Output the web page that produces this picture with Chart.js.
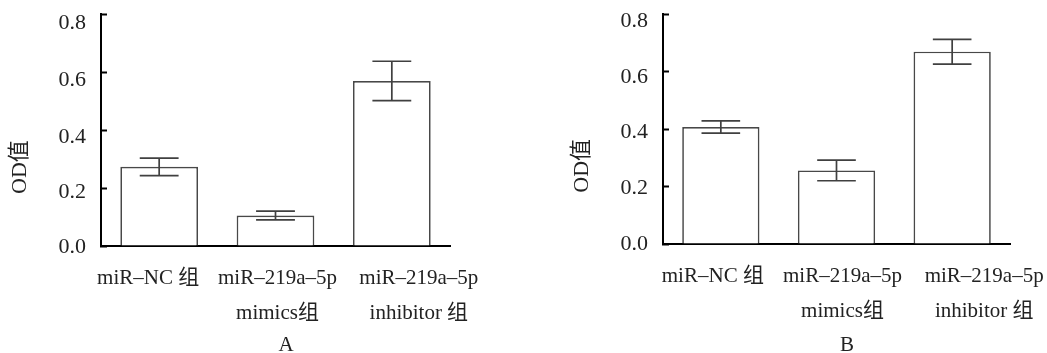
<!DOCTYPE html>
<html>
<head>
<meta charset="utf-8">
<script src="https://cdn.jsdelivr.net/npm/chart.js@4.4.1/dist/chart.umd.min.js"></script>
<style>
  html, body { margin: 0; padding: 0; background: #fff; }
  #wrap { position: relative; width: 1047px; height: 353px; overflow: hidden; }
  canvas { position: absolute; top: 0; }
</style>
</head>
<body>
<div id="wrap">
  <canvas id="cA" width="523" height="353" style="left:0px"></canvas>
  <canvas id="cB" width="524" height="353" style="left:523px"></canvas>
</div>
<script>
// ---- data ----
const categories = [['miR–NC 组'], ['miR–219a–5p', 'mimics组'], ['miR–219a–5p', 'inhibitor 组']];
const yTicks = [0.0, 0.2, 0.4, 0.6, 0.8];
const valuesA = [0.273, 0.105, 0.569];
const errorsA = [0.030, 0.015, 0.068];
const valuesB = [0.407, 0.256, 0.669];
const errorsB = [0.021, 0.036, 0.043];
const panelLabels = ['A', 'B'];
const yTitle = 'OD值';

const FONT = '"Liberation Serif", "Noto Sans CJK SC", serif';
const TEXT = '#222';

const errorBarPlugin = {
  id: 'errorBars',
  afterDatasetsDraw(chart, args, opts) {
    const ctx = chart.ctx;
    const meta = chart.getDatasetMeta(0);
    const ys = chart.scales.y;
    const vals = chart.data.datasets[0].data;
    const errs = opts.errors;
    ctx.save();
    ctx.strokeStyle = '#404040';
    ctx.lineWidth = 1.7;
    meta.data.forEach((bar, i) => {
      const x = bar.x;
      const half = bar.width / 4;
      const yt = ys.getPixelForValue(vals[i] + errs[i]);
      const yb = ys.getPixelForValue(vals[i] - errs[i]);
      ctx.beginPath();
      ctx.moveTo(x, yt); ctx.lineTo(x, yb);
      ctx.moveTo(x - half, yt); ctx.lineTo(x + half, yt);
      ctx.moveTo(x - half, yb); ctx.lineTo(x + half, yb);
      ctx.stroke();
    });
    ctx.restore();
  }
};

// nudge tick labels (layout only)
const labelShiftPlugin = {
  id: 'labelShift',
  beforeDraw(chart, args, opts) {
    const xs = chart.scales.x.getLabelItems(chart.chartArea);
    xs.forEach((it, i) => {
      if (it._baseX === undefined) it._baseX = it.options.translation[0];
      it.options.translation[0] = it._baseX + (opts.xShifts[i] || 0);
    });
    const ys = chart.scales.y.getLabelItems(chart.chartArea);
    ys.forEach((it, i) => {
      if (it._baseY === undefined) it._baseY = it.options.translation[1];
      it.options.translation[1] = it._baseY + (opts.yShifts[i] || 0);
    });
  }
};

const textPlugin = {
  id: 'panelText',
  afterDraw(chart, args, opts) {
    const ctx = chart.ctx;
    const a = chart.chartArea;
    ctx.save();
    ctx.fillStyle = TEXT;
    ctx.font = '22px ' + FONT;
    ctx.textAlign = 'center';
    ctx.textBaseline = 'middle';
    // y title
    ctx.save();
    ctx.translate(a.left - 81, a.top + 0.66 * (a.bottom - a.top));
    ctx.rotate(-Math.PI / 2);
    ctx.fillText(yTitle, 0, 0);
    ctx.restore();
    // panel letter
    ctx.font = '21px ' + FONT;
    ctx.fillText(opts.letter, (a.left + a.right) / 2 + 10.5, 345);
    ctx.restore();
  }
};

function makeChart(id, values, errors, letter, L, R, B, xShifts, yShifts) {
  const canvas = document.getElementById(id);
  const W = canvas.width, H = canvas.height;
  return new Chart(canvas, {
    type: 'bar',
    data: {
      labels: categories,
      datasets: [{
        data: values,
        backgroundColor: '#ffffff',
        borderColor: '#484848',
        borderWidth: 1.7,
        categoryPercentage: 1.0,
        barPercentage: 0.668
      }]
    },
    options: {
      responsive: false,
      animation: false,
      events: [],
      layout: { padding: { left: 0, right: W - R, top: 14, bottom: 0 } },
      plugins: {
        legend: { display: false },
        tooltip: { enabled: false },
        errorBars: { errors: errors },
        panelText: { letter: letter },
        labelShift: { xShifts: xShifts, yShifts: yShifts }
      },
      scales: {
        x: {
          offset: true,
          afterFit: s => { s.height = H - B; s.paddingLeft = 0; s.paddingRight = 0; },
          grid: { display: false },
          border: { display: true, color: '#000', width: 2 },
          ticks: {
            autoSkip: false, maxRotation: 0, minRotation: 0,
            padding: 7,
            color: TEXT,
            font: { family: FONT, size: 21, lineHeight: 1.67 }
          }
        },
        y: {
          min: 0, max: 0.8,
          afterFit: s => { s.width = L; s.paddingTop = 0; s.paddingBottom = 0; },
          afterBuildTicks: s => { s.ticks = yTicks.map(v => ({ value: v })); },
          grid: {
            display: true, drawOnChartArea: false, drawTicks: true,
            tickLength: -6, tickWidth: 2, tickColor: '#000'
          },
          border: { display: true, color: '#000', width: 2 },
          ticks: {
            padding: 21,
            color: TEXT,
            font: { family: FONT, size: 22 },
            callback: v => Number(v).toFixed(1)
          }
        }
      }
    },
    plugins: [errorBarPlugin, labelShiftPlugin, textPlugin]
  });
}

makeChart('cA', valuesA, errorsA, panelLabels[0], 101, 450, 246, [-11, 2, 27], [1.5, 4, 7, 8.5, 9]);
makeChart('cB', valuesB, errorsB, panelLabels[1], 140, 487, 244, [-8, 6, 32], [0, 1.5, 3.5, 5.5, 7.5]);
</script>
</body>
</html>
